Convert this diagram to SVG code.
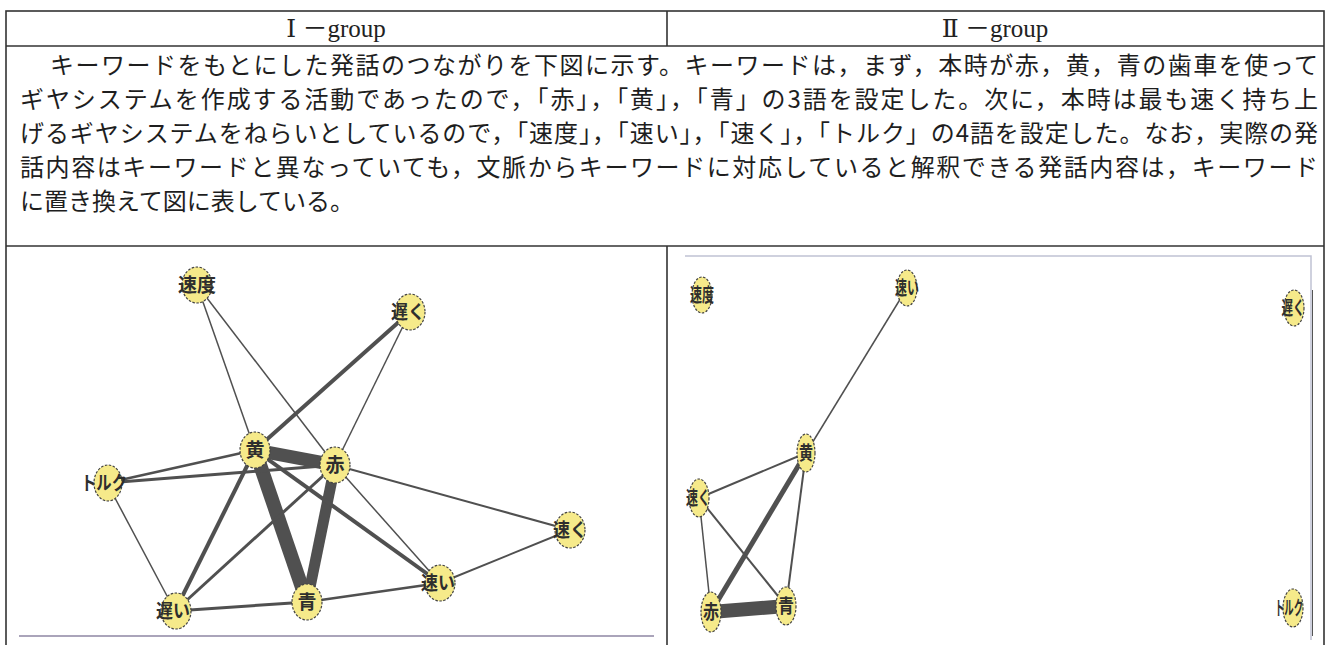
<svg xmlns="http://www.w3.org/2000/svg" width="1330" height="645" viewBox="0 0 1330 645">
<style>
.frame{stroke:#333;stroke-width:1.6;fill:none}
.hdr{font-family:"Liberation Serif","DejaVu Serif","Noto Sans CJK JP",serif;font-size:25px;fill:#222;text-anchor:middle}
.para{font-family:"Noto Sans CJK JP","Noto Sans CJK SC",sans-serif;font-size:24px;fill:#1e1e1e}
.node ellipse{fill:#f6ea8a;stroke:#444;stroke-width:1.2;stroke-dasharray:2.5 1.5}
.lbl{font-family:"Noto Sans CJK JP",sans-serif;font-size:19px;font-weight:bold;fill:#2e2e2e;text-anchor:middle}
.edges line{stroke:#505050;stroke-linecap:butt}
</style>
<rect x="0" y="0" width="1330" height="645" fill="#fff"/>
<g id="table">
<rect class="frame" x="6" y="11" width="1318" height="640"/>
<line class="frame" x1="6" y1="46" x2="1324" y2="46"/>
<line class="frame" x1="6" y1="246" x2="1324" y2="246" stroke-width="2"/>
<line class="frame" x1="667" y1="11" x2="667" y2="46"/>
<line class="frame" x1="667" y1="246" x2="667" y2="645"/>
</g>
<g id="headers">
<text class="hdr" x="336" y="37">Ⅰ －group</text>
<text class="hdr" x="995" y="37">Ⅱ －group</text>
</g>
<g id="paragraph" class="para">
<text x="50" y="74" textLength="1268" lengthAdjust="spacing">キーワードをもとにした発話のつながりを下図に示す。キーワードは，まず，本時が赤，黄，青の歯車を使って</text>
<text x="20" y="108" textLength="1298" lengthAdjust="spacing">ギヤシステムを作成する活動であったので，「赤」，「黄」，「青」の3語を設定した。次に，本時は最も速く持ち上</text>
<text x="20" y="142" textLength="1298" lengthAdjust="spacing">げるギヤシステムをねらいとしているので，「速度」，「速い」，「速く」，「トルク」の4語を設定した。なお，実際の発</text>
<text x="20" y="176" textLength="1298" lengthAdjust="spacing">話内容はキーワードと異なっていても，文脈からキーワードに対応していると解釈できる発話内容は，キーワード</text>
<text x="20" y="210">に置き換えて図に表している。</text>
</g>
<g id="panel-frames">
<line x1="19" y1="636" x2="654" y2="636" stroke="#aaa4ba" stroke-width="2"/>
<polyline points="685,256 1311,256 1311,640" fill="none" stroke="#c0c2d4" stroke-width="1.5"/>
<line x1="1312.5" y1="290" x2="1312.5" y2="636" stroke="#555" stroke-width="1"/>
</g>
<g id="connectors" class="edges">
<line x1="197" y1="285" x2="255" y2="450" stroke-width="1.5"/>
<line x1="197" y1="285" x2="335" y2="465" stroke-width="1.5"/>
<line x1="410" y1="312" x2="255" y2="450" stroke-width="4"/>
<line x1="410" y1="312" x2="335" y2="465" stroke-width="1.5"/>
<line x1="255" y1="450" x2="335" y2="465" stroke-width="13"/>
<line x1="255" y1="450" x2="307" y2="602" stroke-width="14"/>
<line x1="335" y1="465" x2="307" y2="602" stroke-width="11"/>
<line x1="107" y1="483" x2="255" y2="450" stroke-width="2.5"/>
<line x1="107" y1="483" x2="335" y2="465" stroke-width="3"/>
<line x1="107" y1="483" x2="175" y2="611" stroke-width="1.5"/>
<line x1="255" y1="450" x2="175" y2="611" stroke-width="4"/>
<line x1="335" y1="465" x2="175" y2="611" stroke-width="3"/>
<line x1="255" y1="450" x2="440" y2="583" stroke-width="4"/>
<line x1="335" y1="465" x2="440" y2="583" stroke-width="1.5"/>
<line x1="335" y1="465" x2="570" y2="530" stroke-width="2"/>
<line x1="440" y1="583" x2="570" y2="530" stroke-width="2"/>
<line x1="307" y1="602" x2="175" y2="611" stroke-width="3"/>
<line x1="307" y1="602" x2="440" y2="583" stroke-width="2.5"/>
<line x1="907" y1="288" x2="806" y2="453" stroke-width="1.5"/>
<line x1="806" y1="453" x2="699" y2="498" stroke-width="2"/>
<line x1="806" y1="453" x2="711" y2="612" stroke-width="5"/>
<line x1="806" y1="453" x2="786" y2="606" stroke-width="2"/>
<line x1="699" y1="498" x2="711" y2="612" stroke-width="1.5"/>
<line x1="699" y1="498" x2="786" y2="606" stroke-width="2"/>
<line x1="711" y1="612" x2="786" y2="606" stroke-width="14"/>
</g>
<g id="L-sokudo" class="node"><ellipse cx="197" cy="285" rx="15" ry="18"/><text class="lbl" x="197" y="292" textLength="38" lengthAdjust="spacingAndGlyphs">速度</text></g>
<g id="L-osoku" class="node"><ellipse cx="410" cy="312" rx="15" ry="18"/><text class="lbl" x="408" y="319" textLength="34" lengthAdjust="spacingAndGlyphs">遅く</text></g>
<g id="L-ki" class="node"><ellipse cx="255" cy="450" rx="15" ry="18"/><text class="lbl" x="255" y="457">黄</text></g>
<g id="L-aka" class="node"><ellipse cx="335" cy="465" rx="15" ry="18"/><text class="lbl" x="335" y="472">赤</text></g>
<g id="L-torque" class="node"><ellipse cx="108" cy="483" rx="14" ry="18"/><text class="lbl" x="104" y="490" textLength="46" lengthAdjust="spacingAndGlyphs">トルク</text></g>
<g id="L-hayaku" class="node"><ellipse cx="570" cy="530" rx="15" ry="18"/><text class="lbl" x="570" y="537" textLength="34" lengthAdjust="spacingAndGlyphs">速く</text></g>
<g id="L-hayai" class="node"><ellipse cx="440" cy="583" rx="15" ry="18"/><text class="lbl" x="438" y="590" textLength="34" lengthAdjust="spacingAndGlyphs">速い</text></g>
<g id="L-ao" class="node"><ellipse cx="307" cy="602" rx="15" ry="18"/><text class="lbl" x="307" y="609">青</text></g>
<g id="L-osoi" class="node"><ellipse cx="176" cy="611" rx="15" ry="18"/><text class="lbl" x="173" y="618" textLength="34" lengthAdjust="spacingAndGlyphs">遅い</text></g>
<g id="R-sokudo" class="node"><ellipse cx="702" cy="295" rx="10" ry="18"/><text class="lbl" x="702" y="302" textLength="24" lengthAdjust="spacingAndGlyphs">速度</text></g>
<g id="R-hayai" class="node"><ellipse cx="907" cy="288" rx="10" ry="18"/><text class="lbl" x="907" y="295" textLength="24" lengthAdjust="spacingAndGlyphs">速い</text></g>
<g id="R-osoku" class="node"><ellipse cx="1294" cy="308" rx="10" ry="18"/><text class="lbl" x="1293" y="315" textLength="23" lengthAdjust="spacingAndGlyphs">遅く</text></g>
<g id="R-ki" class="node"><ellipse cx="806" cy="453" rx="9" ry="19"/><text class="lbl" x="806" y="460" textLength="14" lengthAdjust="spacingAndGlyphs">黄</text></g>
<g id="R-hayaku" class="node"><ellipse cx="699" cy="498" rx="10" ry="19"/><text class="lbl" x="698" y="505" textLength="24" lengthAdjust="spacingAndGlyphs">速く</text></g>
<g id="R-aka" class="node"><ellipse cx="711" cy="612" rx="10" ry="20"/><text class="lbl" x="711" y="619" textLength="16" lengthAdjust="spacingAndGlyphs">赤</text></g>
<g id="R-ao" class="node"><ellipse cx="786" cy="606" rx="10" ry="19"/><text class="lbl" x="786" y="613" textLength="16" lengthAdjust="spacingAndGlyphs">青</text></g>
<g id="R-torque" class="node"><ellipse cx="1293" cy="608" rx="10" ry="19"/><text class="lbl" x="1289" y="615" textLength="28" lengthAdjust="spacingAndGlyphs">トルク</text></g>
</svg>
